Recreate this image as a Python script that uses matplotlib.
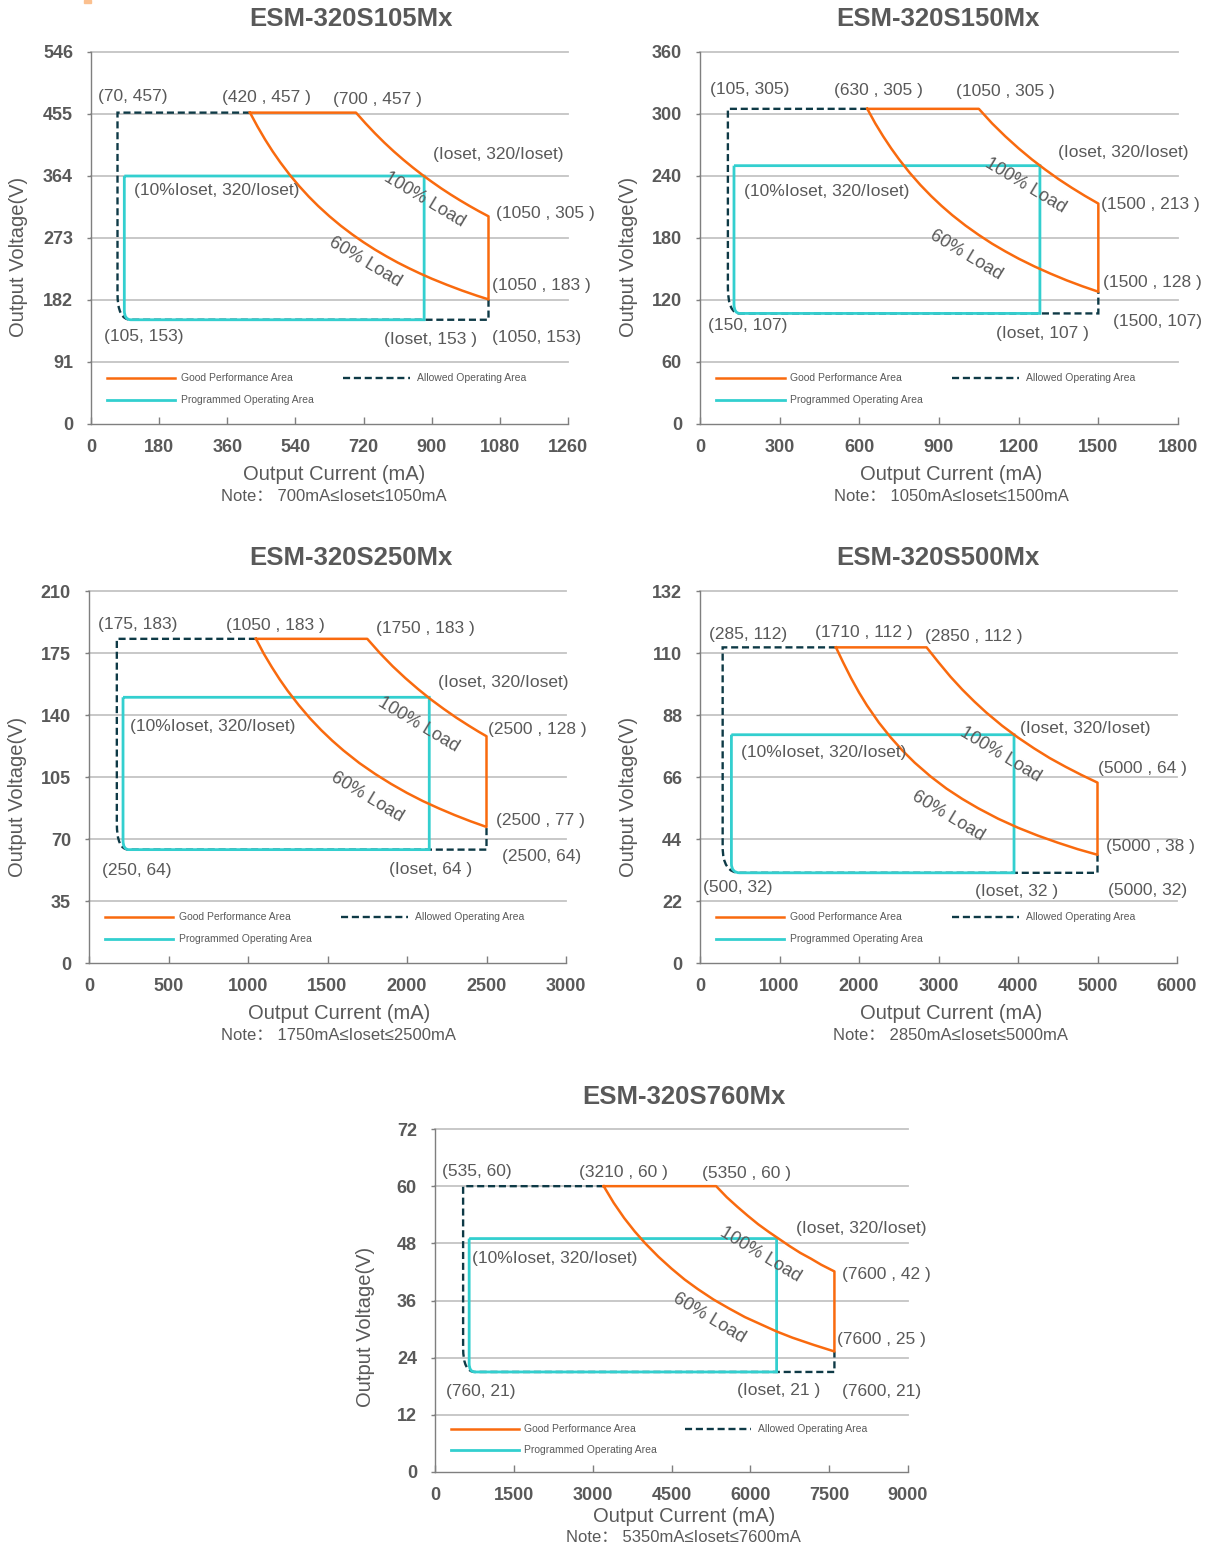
import matplotlib
matplotlib.use("Agg")
import matplotlib.pyplot as plt
from matplotlib.path import Path
from matplotlib.patches import PathPatch, Rectangle
import numpy as np

# ---------------- data ----------------
TITLES = ["ESM-320S105Mx", "ESM-320S150Mx", "ESM-320S250Mx", "ESM-320S500Mx", "ESM-320S760Mx"]
NOTES = ["Note： 700mA≤Ioset≤1050mA", "Note： 1050mA≤Ioset≤1500mA",
         "Note： 1750mA≤Ioset≤2500mA", "Note： 2850mA≤Ioset≤5000mA",
         "Note： 5350mA≤Ioset≤7600mA"]
X_MAX = [1260, 1800, 3000, 6000, 9000]
X_STEP = [180, 300, 500, 1000, 1500]
Y_MAX = [546, 360, 210, 132, 72]
Y_STEP = [91, 60, 35, 22, 12]

V_MAX = [457, 305, 183, 112, 60]          # top voltage
V_MIN = [153, 107, 64, 32, 21]            # bottom voltage
I_ALLOWED_MIN = [70, 105, 175, 285, 535]  # left edge of allowed area
I_PROG_MIN = [105, 150, 250, 500, 760]    # bottom-left of programmed area
I_MAX = [1050, 1500, 2500, 5000, 7600]
I_SET = [880, 1280, 2140, 3950, 6500]     # example Ioset drawn
V_SET = [364, 250, 150, 81, 49]           # 320/Ioset

# 100% load curve
C100_I = [[700, 725, 750, 775, 800, 825, 850, 875, 900, 925, 950, 975, 1000, 1025, 1050],
          [1050, 1100, 1150, 1200, 1250, 1300, 1350, 1400, 1450, 1500],
          [1750, 1830, 1910, 1990, 2070, 2150, 2230, 2310, 2390, 2450, 2500],
          [2850, 3000, 3150, 3300, 3450, 3600, 3800, 4000, 4200, 4400, 4600, 4800, 5000],
          [5350, 5550, 5750, 5950, 6150, 6350, 6550, 6750, 6950, 7150, 7350, 7600]]
C100_V = [[457, 441.4, 426.7, 412.9, 400, 387.9, 376.5, 365.7, 355.6, 345.9, 336.8, 328.2, 320, 312.2, 304.8],
          [305, 290.9, 278.3, 266.7, 256, 246.2, 237.0, 228.6, 220.7, 213.3],
          [183, 174.9, 167.5, 160.8, 154.6, 148.8, 143.5, 138.5, 133.9, 130.6, 128],
          [112, 106.7, 101.6, 97.0, 92.8, 88.9, 84.2, 80, 76.2, 72.7, 69.6, 66.7, 64],
          [60, 57.7, 55.7, 53.8, 52.0, 50.4, 48.9, 47.4, 46.0, 44.8, 43.5, 42.1]]
# 60% load curve
C60_I = [[420, 440, 460, 480, 500, 525, 550, 575, 600, 630, 660, 690, 720, 750, 780, 810, 840, 870,
          900, 940, 980, 1020, 1050],
         [630, 660, 690, 720, 750, 790, 830, 870, 910, 950, 1000, 1050, 1100, 1150, 1200, 1260, 1320,
          1380, 1440, 1500],
         [1050, 1100, 1150, 1200, 1250, 1320, 1390, 1460, 1530, 1600, 1700, 1800, 1900, 2000, 2100,
          2200, 2300, 2400, 2500],
         [1710, 1800, 1900, 2000, 2100, 2250, 2400, 2550, 2700, 2900, 3100, 3300, 3500, 3750, 4000,
          4250, 4500, 4750, 5000],
         [3210, 3400, 3600, 3800, 4000, 4250, 4500, 4750, 5000, 5300, 5600, 5900, 6200, 6500, 6800,
          7200, 7600]]
C60_V = [[457, 436.4, 417.4, 400, 384, 365.7, 349.1, 333.9, 320, 304.8, 290.9, 278.3, 266.7, 256, 246.2,
          237.0, 228.6, 220.7, 213.3, 204.3, 195.9, 188.2, 182.9],
         [305, 290.9, 278.3, 266.7, 256, 243.0, 231.3, 220.7, 211.0, 202.1, 192, 182.9, 174.5, 167.0,
          160, 152.4, 145.5, 139.1, 133.3, 128],
         [183, 174.5, 167.0, 160, 153.6, 145.5, 138.1, 131.5, 125.5, 120, 112.9, 106.7, 101.1, 96,
          91.4, 87.3, 83.5, 80, 76.8],
         [112, 106.7, 101.1, 96, 91.4, 85.3, 80, 75.3, 71.1, 66.2, 61.9, 58.2, 54.9, 51.2, 48, 45.2,
          42.7, 40.4, 38.4],
         [60, 56.5, 53.3, 50.5, 48, 45.2, 42.7, 40.4, 38.4, 36.2, 34.3, 32.5, 31.0, 29.5, 28.2, 26.7,
          25.3]]

LABELS = [
    ["(70, 457)", "(420 , 457 )", "(700 , 457 )", "(Ioset, 320/Ioset)", "(10%Ioset, 320/Ioset)",
     "(1050 , 305 )", "(1050 , 183 )", "(105, 153)", "(Ioset, 153 )", "(1050, 153)"],
    ["(105, 305)", "(630 , 305 )", "(1050 , 305 )", "(Ioset, 320/Ioset)", "(10%Ioset, 320/Ioset)",
     "(1500 , 213 )", "(1500 , 128 )", "(150, 107)", "(Ioset, 107 )", "(1500, 107)"],
    ["(175, 183)", "(1050 , 183 )", "(1750 , 183 )", "(Ioset, 320/Ioset)", "(10%Ioset, 320/Ioset)",
     "(2500 , 128 )", "(2500 , 77 )", "(250, 64)", "(Ioset, 64 )", "(2500, 64)"],
    ["(285, 112)", "(1710 , 112 )", "(2850 , 112 )", "(Ioset, 320/Ioset)", "(10%Ioset, 320/Ioset)",
     "(5000 , 64 )", "(5000 , 38 )", "(500, 32)", "(Ioset, 32 )", "(5000, 32)"],
    ["(535, 60)", "(3210 , 60 )", "(5350 , 60 )", "(Ioset, 320/Ioset)", "(10%Ioset, 320/Ioset)",
     "(7600 , 42 )", "(7600 , 25 )", "(760, 21)", "(Ioset, 21 )", "(7600, 21)"],
]

# ---------------- layout / style ----------------
W, H = 1211, 1549
AX_PX = [(91, 568, 52, 424), (700, 1178, 52, 424), (89, 566, 591, 963),
         (700, 1177, 591, 963), (435, 908, 1129, 1472)]
TITLE_POS = [(0.545, 1.089), (0.498, 1.089), (0.549, 1.089), (0.499, 1.089), (0.526, 1.093)]
YLABEL_POS = [(-0.153, 0.449), (-0.149, 0.449), (-0.149, 0.446), (-0.149, 0.446), (-0.146, 0.423)]
XLABEL_POS = [(0.509, -0.137), (0.525, -0.137), (0.524, -0.137), (0.526, -0.137), (0.526, -0.131)]
NOTE_Y = [-0.196, -0.196, -0.196, -0.196, -0.192]
LOAD100_POS = [(0.700, 0.602), (0.680, 0.642), (0.690, 0.642), (0.629, 0.559), (0.689, 0.633)]
LOAD60_POS = [(0.574, 0.435), (0.556, 0.454), (0.583, 0.446), (0.520, 0.395), (0.579, 0.449)]
# label offsets in pixels (dx, dy downwards, ha)
OFFS = [
    [(-19.5, -16.6, 'left'), (16, -15, 'center'), (21, -13, 'center'), (9, -21, 'left'), (10, 15, 'left'),
     (7, -3, 'left'), (4, -14, 'left'), (-27, 17, 'left'), (6, 20, 'center'), (4, 18, 'left')],
    [(-18, -19, 'left'), (11, -18, 'center'), (27, -17, 'center'), (18, -13, 'left'), (10, 26, 'left'),
     (3, 1, 'left'), (5, -9, 'left'), (-32, 12, 'left'), (3, 20, 'center'), (15, 8, 'left')],
    [(-19, -14, 'left'), (19, -13, 'center'), (9, -10, 'left'), (9, -15, 'left'), (7, 29, 'left'),
     (2, -7, 'left'), (10, -6, 'left'), (-27, 21, 'left'), (1, 20, 'center'), (15, 7, 'left')],
    [(-14, -13, 'left'), (28, -15, 'center'), (-2, -11, 'left'), (6, -6, 'left'), (10, 18, 'left'),
     (1, -14, 'left'), (9, -8, 'left'), (-37, 15, 'left'), (3, 19, 'center'), (11, 18, 'left')],
    [(-21, -15, 'left'), (20, -14, 'center'), (-14, -13, 'left'), (19, -10, 'left'), (3, 20, 'left'),
     (8, 3, 'left'), (3, -12, 'left'), (-29, 20, 'left'), (2, 19, 'center'), (8, 20, 'left')],
]

ORANGE = "#F96A0E"
CYAN = "#33CFCF"
DARK = "#0E3A46"
GRAY = "#595959"
GRID = "#C4C4C4"
DASH = (0, (3.0, 1.6))
FONT = ['Liberation Sans', 'Noto Sans CJK SC', 'DejaVu Sans']
plt.rcParams['font.family'] = FONT

fig = plt.figure(figsize=(W / 100, H / 100), dpi=100)
fig.patches.append(Rectangle((84 / W, 1 - 3 / H), 7 / W, 3 / H, transform=fig.transFigure,
                             color="#FBC08F", zorder=10))

PX = 0.72  # points per pixel

for k in range(5):
    l, r, t, b = AX_PX[k]
    ax = fig.add_axes([l / W, 1 - b / H, (r - l) / W, (b - t) / H])
    ax.set_xlim(0, X_MAX[k])
    ax.set_ylim(0, Y_MAX[k])
    ax.set_xticks(np.arange(0, X_MAX[k] + 1, X_STEP[k]))
    ax.set_yticks(np.arange(0, Y_MAX[k] + 1, Y_STEP[k]))
    for s in ['top', 'right']:
        ax.spines[s].set_visible(False)
    for s in ['left', 'bottom']:
        ax.spines[s].set_color("#7F7F7F")
        ax.spines[s].set_linewidth(1.0)
    ax.tick_params(axis='x', direction='in', length=5, width=1, color="#7F7F7F", pad=11,
                   labelsize=13, labelcolor=GRAY)
    ax.tick_params(axis='y', direction='out', length=3, width=1, color="#7F7F7F", pad=10,
                   labelsize=13, labelcolor=GRAY)
    for lab in ax.get_xticklabels() + ax.get_yticklabels():
        lab.set_fontweight('bold')
    ax.yaxis.grid(True, color=GRID, linewidth=1.3)
    ax.set_axisbelow(True)
    for gl in ax.get_ygridlines():
        gl.set_clip_on(False)
    ax.get_ygridlines()[0].set_visible(False)

    yr = Y_MAX[k]
    # Allowed operating area (dashed)
    ia, vmx, vmn = I_ALLOWED_MIN[k], V_MAX[k], V_MIN[k]
    verts = [(C60_I[k][0], vmx), (ia, vmx), (ia, vmn + 0.07 * yr), (ia, vmn),
             (I_PROG_MIN[k], vmn), (I_MAX[k], vmn), (I_MAX[k], C60_V[k][-1])]
    codes = [Path.MOVETO, Path.LINETO, Path.LINETO, Path.CURVE3, Path.CURVE3, Path.LINETO, Path.LINETO]
    ax.add_patch(PathPatch(Path(verts, codes), fill=False, edgecolor=DARK, lw=1.7,
                           linestyle=DASH, zorder=2, clip_on=False))
    # Programmed operating area (cyan)
    x0 = 0.1 * I_SET[k]
    verts = [(x0, V_SET[k]), (x0, vmn + 0.025 * yr), (x0, vmn), (I_PROG_MIN[k], vmn),
             (I_SET[k], vmn), (I_SET[k], V_SET[k]), (x0, V_SET[k])]
    codes = [Path.MOVETO, Path.LINETO, Path.CURVE3, Path.CURVE3, Path.LINETO, Path.LINETO, Path.LINETO]
    ax.add_patch(PathPatch(Path(verts, codes), fill=False, edgecolor=CYAN, lw=2.0,
                           joinstyle='miter', zorder=3))
    # Good performance area (orange)
    xs = [C60_I[k][0]] + C100_I[k] + C60_I[k][::-1]
    ys = [C60_V[k][0]] + C100_V[k] + C60_V[k][::-1]
    ax.plot(xs, ys, color=ORANGE, lw=1.8, zorder=4, solid_joinstyle='round')

    # point labels
    anchors = [(ia, vmx), (C60_I[k][0], vmx), (C100_I[k][0], vmx), (I_SET[k], V_SET[k]),
               (x0, V_SET[k]), (I_MAX[k], C100_V[k][-1]), (I_MAX[k], C60_V[k][-1]),
               (I_PROG_MIN[k], vmn), (I_SET[k], vmn), (I_MAX[k], vmn)]
    for (ax_, ay_), txt, (dx, dy, ha) in zip(anchors, LABELS[k], OFFS[k]):
        ax.annotate(txt, (ax_, ay_), xytext=(dx * PX, -dy * PX), textcoords='offset points',
                    ha=ha, va='center', fontsize=12.5, color=GRAY, zorder=6,
                    annotation_clip=False)

    ax.text(*LOAD100_POS[k], "100% Load", transform=ax.transAxes, rotation=-31,
            rotation_mode='anchor', ha='center', va='center', fontsize=13, color=GRAY, zorder=6)
    ax.text(*LOAD60_POS[k], "60% Load", transform=ax.transAxes, rotation=-31,
            rotation_mode='anchor', ha='center', va='center', fontsize=13, color=GRAY, zorder=6)

    # legend (manual)
    lx0, lx1, ltx = 0.034, 0.177, 0.188
    dx0, dx1, dtx = 0.528, 0.668, 0.683
    ry1, ry2 = 0.124, 0.065
    ax.plot([lx0, lx1], [ry1, ry1], transform=ax.transAxes, color=ORANGE, lw=1.8, clip_on=False)
    ax.text(ltx, ry1, "Good Performance Area", transform=ax.transAxes, va='center',
            fontsize=7.5, color=GRAY)
    ax.plot([dx0, dx1], [ry1, ry1], transform=ax.transAxes, color=DARK, lw=1.7,
            linestyle=DASH, clip_on=False)
    ax.text(dtx, ry1, "Allowed Operating Area", transform=ax.transAxes, va='center',
            fontsize=7.5, color=GRAY)
    ax.plot([lx0, lx1], [ry2, ry2], transform=ax.transAxes, color=CYAN, lw=2.0, clip_on=False)
    ax.text(ltx, ry2, "Programmed Operating Area", transform=ax.transAxes, va='center',
            fontsize=7.5, color=GRAY)

    # titles & axis labels
    ax.text(*TITLE_POS[k], TITLES[k], transform=ax.transAxes, ha='center', va='center',
            fontsize=18.5, fontweight='bold', color=GRAY)
    ax.text(*YLABEL_POS[k], "Output Voltage(V)", transform=ax.transAxes, ha='center',
            va='center', rotation=90, fontsize=14.5, color=GRAY)
    ax.text(*XLABEL_POS[k], "Output Current (mA)", transform=ax.transAxes, ha='center',
            va='center', fontsize=14.5, color=GRAY)
    ax.text(XLABEL_POS[k][0], NOTE_Y[k], NOTES[k], transform=ax.transAxes, ha='center',
            va='center', fontsize=12, color=GRAY)

fig.savefig("out.png", dpi=100, facecolor='white')
